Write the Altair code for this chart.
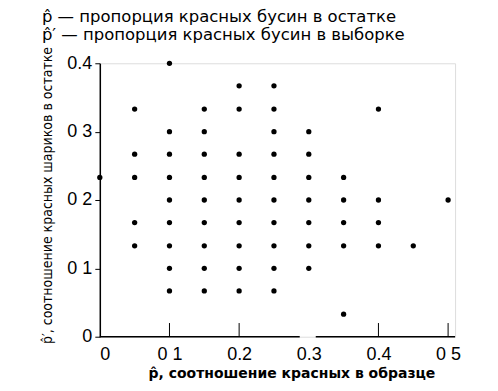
import altair as alt
import pandas as pd

# p-hat (sample proportion) columns and p-hat-prime values observed in each
x_vals = [0.0,
          0.05, 0.05, 0.05, 0.05, 0.05,
          0.10, 0.10, 0.10, 0.10, 0.10, 0.10, 0.10, 0.10, 0.10,
          0.15, 0.15, 0.15, 0.15, 0.15, 0.15, 0.15, 0.15, 0.15,
          0.20, 0.20, 0.20, 0.20, 0.20, 0.20, 0.20, 0.20, 0.20,
          0.25, 0.25, 0.25, 0.25, 0.25, 0.25, 0.25, 0.25, 0.25, 0.25,
          0.30, 0.30, 0.30, 0.30, 0.30, 0.30, 0.30,
          0.35, 0.35, 0.35, 0.35, 0.35,
          0.40, 0.40, 0.40, 0.40,
          0.45,
          0.50]
y_vals = [0.233,
          0.333, 0.267, 0.233, 0.167, 0.133,
          0.400, 0.300, 0.267, 0.233, 0.200, 0.167, 0.133, 0.100, 0.067,
          0.333, 0.300, 0.267, 0.233, 0.200, 0.167, 0.133, 0.100, 0.067,
          0.367, 0.333, 0.267, 0.233, 0.200, 0.167, 0.133, 0.100, 0.067,
          0.367, 0.333, 0.300, 0.267, 0.233, 0.200, 0.167, 0.133, 0.100, 0.067,
          0.300, 0.267, 0.233, 0.200, 0.167, 0.133, 0.100,
          0.233, 0.200, 0.167, 0.133, 0.033,
          0.333, 0.200, 0.167, 0.133,
          0.133,
          0.200]

x_ticks = [0, 0.1, 0.2, 0.3, 0.4, 0.5]
x_tick_labels = ["0", "0 1", "0.2", "0.3", "0.4", "0 5"]
y_ticks = [0, 0.1, 0.2, 0.3, 0.4]
y_tick_labels = ["0", "0 1", "0 2", "0 3", "0.4"]

# broken baseline segments (as in the scan)
seg_start = [0.0, 0.31]
seg_end = [0.287, 0.51]
# inward x ticks
inner_ticks = [0.1, 0.2, 0.4, 0.5]
inner_tick_len = 0.02

title_lines = ["p\u0302 \u2014 пропорция красных бусин в остатке",
               "p\u0302\u2032 \u2014 пропорция красных бусин в выборке"]
x_title = "p\u0302, соотношение красных в образце"
y_title = "p\u0302\u2032, соотношение красных шариков в остатке"

df = pd.DataFrame({"x": x_vals, "y": y_vals})
seg = pd.DataFrame({"x": seg_start, "x2": seg_end, "y": [0, 0]})
tk = pd.DataFrame({"x": inner_ticks, "y": [0] * len(inner_ticks),
                   "y2": [inner_tick_len] * len(inner_ticks)})


def label_expr(ticks, labels):
    parts = []
    for t, l in zip(ticks, labels):
        parts.append(f"abs(datum.value - {t}) < 0.001 ? '{l}'")
    return " : ".join(parts) + " : ''"


xscale = alt.Scale(domain=[0, 0.51], nice=False, zero=False)
yscale = alt.Scale(domain=[0, 0.4], nice=False)

points = alt.Chart(df).mark_circle(size=28, color="black", opacity=1).encode(
    x=alt.X("x:Q", scale=xscale, title=x_title,
            axis=alt.Axis(values=x_ticks, labelExpr=label_expr(x_ticks, x_tick_labels),
                          domain=False, ticks=False,
                          labelFontSize=18, labelFont="Liberation Sans", labelColor="black",
                          labelPadding=9, grid=False,
                          titleFont="DejaVu Sans", titleFontSize=14, titleFontWeight="bold",
                          titleColor="black", titlePadding=3,
                          titleX=192, titleAlign="center")),
    y=alt.Y("y:Q", scale=yscale, title=y_title,
            axis=alt.Axis(values=y_ticks, labelExpr=label_expr(y_ticks, y_tick_labels),
                          domain=True, domainColor="black", domainWidth=1.5,
                          ticks=True, tickSize=5, tickColor="black",
                          labelFontSize=18, labelFont="Liberation Sans", labelColor="black",
                          labelPadding=3, grid=False,
                          titleFont="DejaVu Sans Condensed", titleFontSize=14,
                          titleFontWeight="normal", titleColor="black", titlePadding=12,
                          titleY=132)),
)

baseline = alt.Chart(seg).mark_rule(color="black", strokeWidth=1.5).encode(
    x=alt.X("x:Q", scale=xscale),
    x2="x2:Q",
    y=alt.Y("y:Q", scale=yscale),
)

ticks_in = alt.Chart(tk).mark_rule(color="black", strokeWidth=1).encode(
    x=alt.X("x:Q", scale=xscale),
    y=alt.Y("y:Q", scale=yscale),
    y2="y2:Q",
)

chart = alt.layer(baseline, ticks_in, points).properties(
    width=356,
    height=274,
    padding={"left": 92, "top": 55, "right": 35, "bottom": 46},
    autosize=alt.AutoSizeParams(type="none"),
    title=alt.TitleParams(text=title_lines, anchor="start", frame="group", dx=-58,
                          offset=3, font="DejaVu Sans", fontSize=16.5,
                          fontWeight="normal", color="black", lineHeight=18),
).configure_view(stroke=None).configure(background="white")

chart.save("out.html", embed_options={"renderer": "svg", "actions": False})
